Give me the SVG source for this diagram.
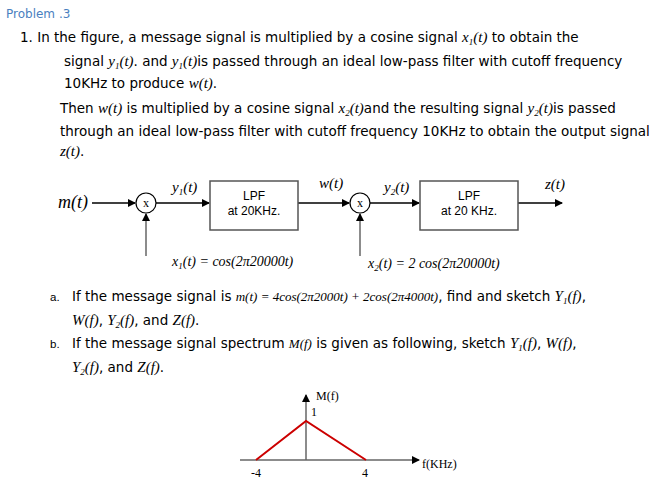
<svg xmlns="http://www.w3.org/2000/svg" width="672" height="480" viewBox="0 0 672 480">
<style>
.t{font-family:"DejaVu Sans",Verdana,sans-serif;font-size:13.5px;fill:#000}
.m{font-family:"Liberation Serif",serif;font-style:italic;font-size:15px;fill:#000}
.b{font-size:9px}
.s{font-family:"Liberation Sans",Arial,sans-serif;font-size:12px;fill:#000}
.r{font-family:"Liberation Serif",serif;font-size:12px;fill:#000}
.ln{stroke:#000;stroke-width:1.3;fill:none}
.g{stroke:#666;stroke-width:1.5;fill:none}
</style>
<defs><marker id="a" markerWidth="8" markerHeight="8" refX="7" refY="4" orient="auto" markerUnits="userSpaceOnUse"><path d="M0,0L8,4L0,8z" fill="#000"/></marker></defs>
<rect width="672" height="480" fill="#fff"/>
<text x="6" y="18" style="font-family:'DejaVu Sans',sans-serif;font-size:12px;fill:#4a7fc0">Problem .3</text>
<text x="20" y="42" class="t">1.  In the figure, a message signal is multiplied by a cosine signal <tspan class="m">x</tspan><tspan class="m b" dy="3">1</tspan><tspan class="m" dy="-3">(t)</tspan> to obtain the</text>
<text x="64" y="66" class="t">signal <tspan class="m">y</tspan><tspan class="m b" dy="3">1</tspan><tspan class="m" dy="-3">(t)</tspan>. and <tspan class="m">y</tspan><tspan class="m b" dy="3">1</tspan><tspan class="m" dy="-3">(t)</tspan>is passed through an ideal low-pass filter with cutoff frequency</text>
<text x="64" y="88" class="t">10KHz to produce <tspan class="m">w(t)</tspan>.</text>
<text x="60" y="113" class="t">Then <tspan class="m">w(t)</tspan> is multiplied by a cosine signal <tspan class="m">x</tspan><tspan class="m b" dy="3">2</tspan><tspan class="m" dy="-3">(t)</tspan>and the resulting signal <tspan class="m">y</tspan><tspan class="m b" dy="3">2</tspan><tspan class="m" dy="-3">(t)</tspan>is passed</text>
<text x="60" y="136" class="t">through an ideal low-pass filter with cutoff frequency 10KHz to obtain the output signal</text>
<text x="60" y="156" class="t"><tspan class="m">z(t)</tspan>.</text>
<g id="connectors">
<line x1="92" y1="203" x2="135" y2="203" class="ln" marker-end="url(#a)"/>
<line x1="156" y1="203" x2="209" y2="203" class="ln" marker-end="url(#a)"/>
<line x1="298" y1="203" x2="349" y2="203" class="ln" marker-end="url(#a)"/>
<line x1="370" y1="203" x2="419" y2="203" class="ln" marker-end="url(#a)"/>
<line x1="518" y1="203" x2="562" y2="203" class="ln" marker-end="url(#a)"/>
<line x1="146" y1="256" x2="146" y2="214" class="g" marker-end="url(#a)"/>
<line x1="360" y1="256" x2="360" y2="214" class="g" marker-end="url(#a)"/>
</g>
<text x="58" y="208" class="m" style="font-size:18px">m(t)</text>
<g id="mult1"><circle cx="146" cy="203" r="10" fill="#fff" stroke="#000" stroke-width="1.2"/><text x="146" y="207" text-anchor="middle" class="r">x</text></g>
<g id="lpf1"><rect x="210" y="181" width="88" height="49" fill="#fff" stroke="#555" stroke-width="1.5"/><text x="254" y="200" text-anchor="middle" class="s">LPF</text><text x="254" y="215" text-anchor="middle" class="s">at 20KHz.</text></g>
<g id="mult2"><circle cx="360" cy="203" r="10" fill="#fff" stroke="#000" stroke-width="1.2"/><text x="360" y="207" text-anchor="middle" class="r">x</text></g>
<g id="lpf2"><rect x="420" y="181" width="98" height="49" fill="#fff" stroke="#555" stroke-width="1.5"/><text x="469" y="200" text-anchor="middle" class="s">LPF</text><text x="469" y="215" text-anchor="middle" class="s">at 20 KHz.</text></g>
<text x="172" y="192" class="m">y<tspan class="b" dy="3">1</tspan><tspan dy="-3">(t)</tspan></text>
<text x="319" y="188" class="m">w(t)</text>
<text x="384" y="192" class="m">y<tspan class="b" dy="3">2</tspan><tspan dy="-3">(t)</tspan></text>
<text x="545" y="189" class="m">z(t)</text>
<text x="172" y="266" class="m" style="font-size:14px">x<tspan class="b" dy="3">1</tspan><tspan dy="-3">(t) = cos(2π20000t)</tspan></text>
<text x="368" y="268" class="m" style="font-size:14px">x<tspan class="b" dy="3">2</tspan><tspan dy="-3">(t) = 2 cos(2π20000t)</tspan></text>
<text x="50" y="301" class="s" style="font-size:11.5px">a.</text>
<text x="72" y="301" class="t">If the message signal is <tspan class="m" style="font-size:13px">m(t) = 4cos(2π2000t) + 2cos(2π4000t)</tspan>, find and sketch <tspan class="m">Y</tspan><tspan class="m b" dy="3">1</tspan><tspan class="m" dy="-3">(f)</tspan>,</text>
<text x="72" y="325" class="t"><tspan class="m">W(f)</tspan>, <tspan class="m">Y</tspan><tspan class="m b" dy="3">2</tspan><tspan class="m" dy="-3">(f)</tspan>, and <tspan class="m">Z(f)</tspan>.</text>
<text x="50" y="348" class="s" style="font-size:11.5px">b.</text>
<text x="72" y="348" class="t">If the message signal spectrum <tspan class="m" style="font-size:13px">M(f)</tspan> is given as following, sketch <tspan class="m">Y</tspan><tspan class="m b" dy="3">1</tspan><tspan class="m" dy="-3">(f)</tspan>, <tspan class="m">W(f)</tspan>,</text>
<text x="72" y="372" class="t"><tspan class="m">Y</tspan><tspan class="m b" dy="3">2</tspan><tspan class="m" dy="-3">(f)</tspan>, and <tspan class="m">Z(f)</tspan>.</text>
<g id="spectrum">
<line x1="240" y1="460" x2="419" y2="460" class="g" marker-end="url(#a)"/>
<line x1="306" y1="460" x2="306" y2="395" class="g" marker-end="url(#a)"/>
<polyline points="256,460 306,421 366,460" fill="none" stroke="#c00" stroke-width="2"/>
<text x="316" y="400" class="r">M(f)</text>
<text x="311" y="416" class="r">1</text>
<text x="251" y="477" class="r">-4</text>
<text x="362" y="477" class="r">4</text>
<text x="422" y="468" class="r">f(KHz)</text>
</g>
</svg>
